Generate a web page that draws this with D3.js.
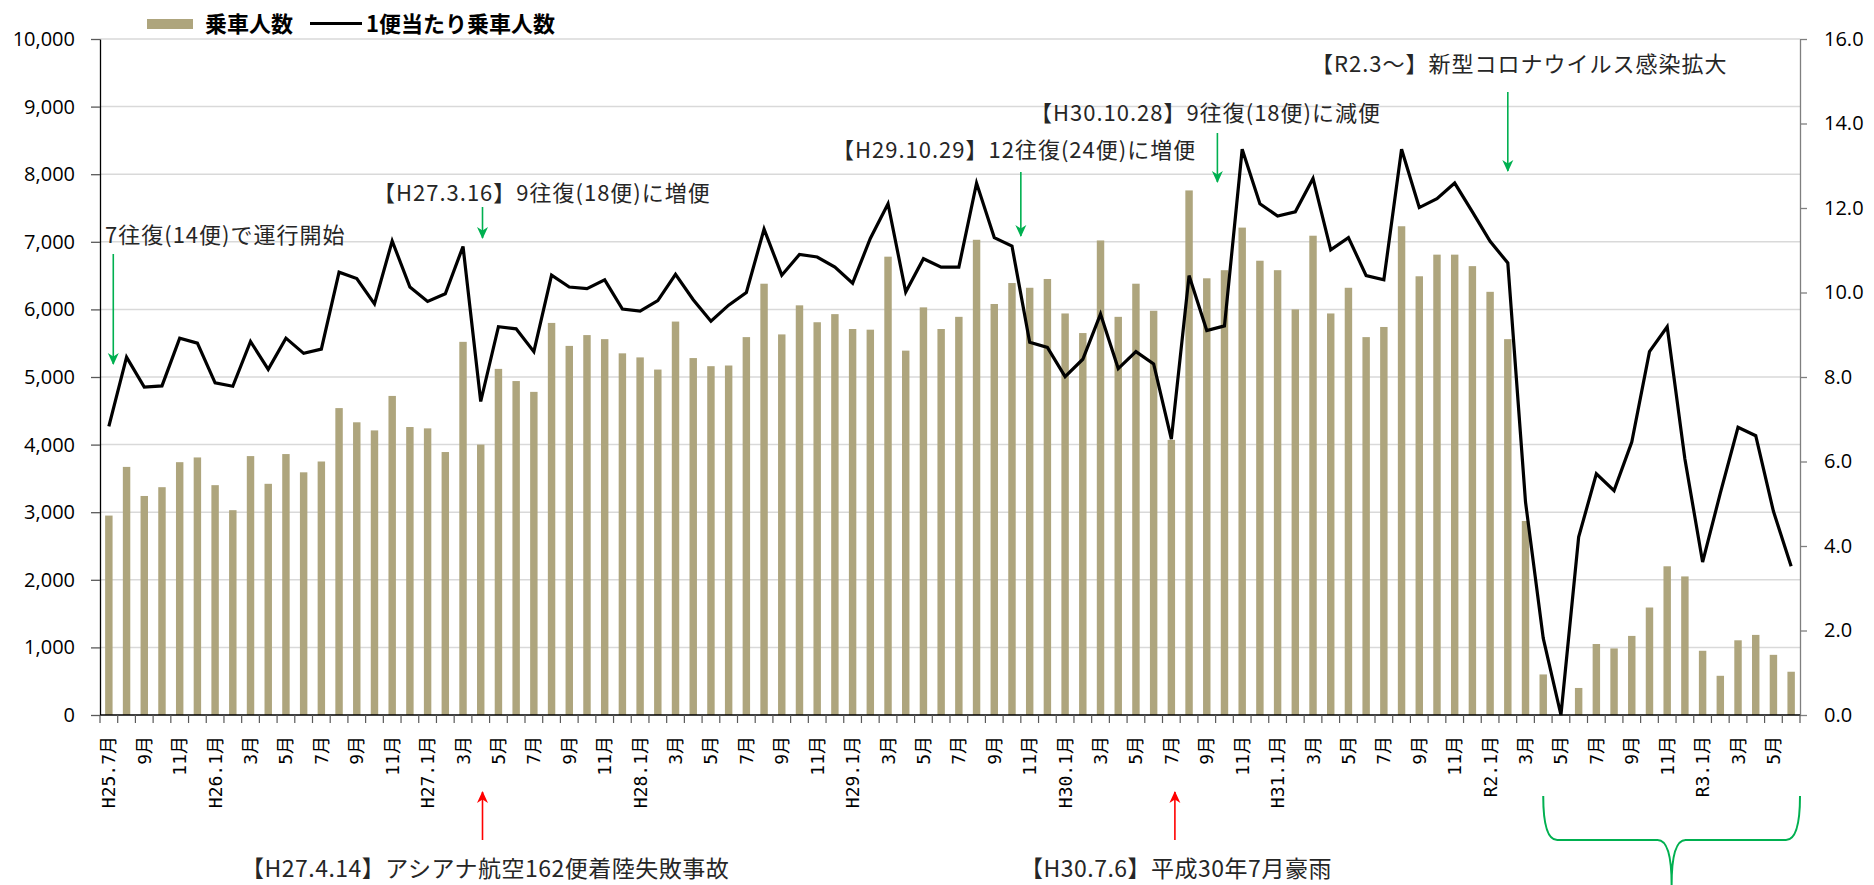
<!DOCTYPE html>
<html>
<head>
<meta charset="utf-8">
<script src="https://cdn.jsdelivr.net/npm/d3@7"></script>
<style>
  body { margin: 0; background: #fff; }
  svg { display: block; font-family: "Noto Sans CJK JP", sans-serif; }
</style>
</head>
<body>
<div id="chart"></div>
<script>
// x-axis labels, one every 2 months starting at H25.7
const tickLabels = ["H25.7月","9月","11月","H26.1月","3月","5月","7月","9月","11月",
  "H27.1月","3月","5月","7月","9月","11月","H28.1月","3月","5月","7月","9月","11月",
  "H29.1月","3月","5月","7月","9月","11月","H30.1月","3月","5月","7月","9月","11月",
  "H31.1月","3月","5月","7月","9月","11月","R2.1月","3月","5月","7月","9月","11月",
  "R3.1月","3月","5月"];

// 乗車人数 (monthly, H25.7 - R3.6)
const riders = [
  2950,3670,3240,3370,3740,3810,3400,3030,3830,3420,3860,3590,
  3750,4540,4330,4210,4720,4260,4240,3890,5520,4000,5120,4940,
  4780,5800,5460,5620,5560,5350,5290,5110,5820,5280,5160,5170,
  5590,6380,5630,6060,5810,5930,5710,5700,6780,5390,6030,5710,
  5890,7030,6080,6390,6320,6450,5940,5650,7020,5890,6380,5980,
  4070,7760,6460,6580,7210,6720,6580,6000,7090,5940,6320,5590,
  5740,7230,6490,6810,6810,6640,6260,5560,2870,600,0,400,
  1050,985,1170,1590,2200,2050,950,580,1105,1185,890,640
];

// 1便当たり乗車人数
const perFlight = [
  6.83,8.47,7.76,7.79,8.92,8.80,7.86,7.78,8.84,8.18,8.92,8.56,
  8.66,10.48,10.33,9.73,11.22,10.13,9.79,9.97,11.09,7.42,9.19,9.14,
  8.60,10.41,10.13,10.09,10.30,9.61,9.56,9.81,10.43,9.83,9.32,9.70,
  10.00,11.50,10.41,10.90,10.84,10.60,10.22,11.28,12.10,10.01,10.80,10.60,
  10.60,12.59,11.30,11.10,8.82,8.70,8.01,8.42,9.49,8.20,8.60,8.31,
  6.53,10.40,9.10,9.21,13.39,12.10,11.81,11.91,12.70,11.01,11.30,10.40,
  10.30,13.39,12.01,12.22,12.59,11.91,11.21,10.70,5.04,1.82,0,4.21,
  5.71,5.31,6.46,8.60,9.19,6.06,3.62,5.25,6.81,6.61,4.82,3.52
];

const width = 1874, height = 885;
const margin = { top: 39, right: 74, bottom: 170, left: 100 };
const green = "#00b050", red = "#ff0000";

const svg = d3.select("#chart").append("svg")
  .attr("width", width)
  .attr("height", height);

const x = d3.scaleBand()
  .domain(d3.range(riders.length))
  .range([margin.left, width - margin.right])
  .paddingInner(0.58)
  .paddingOuter(0.29);
const xc = i => x(i) + x.bandwidth() / 2;

const yL = d3.scaleLinear().domain([0, 10000]).range([height - margin.bottom, margin.top]);
const yR = d3.scaleLinear().domain([0, 16]).range([height - margin.bottom, margin.top]);

// gridlines
svg.append("g")
  .selectAll("line")
  .data(yL.ticks(10).filter(d => d > 0))
  .enter().append("line")
  .attr("x1", margin.left)
  .attr("x2", width - margin.right)
  .attr("y1", d => yL(d))
  .attr("y2", d => yL(d))
  .attr("stroke", "#d9d9d9")
  .attr("stroke-width", 1.5);

// bars
svg.append("g")
  .selectAll("rect")
  .data(riders)
  .enter().append("rect")
  .attr("x", (d, i) => x(i))
  .attr("y", d => yL(d))
  .attr("width", x.bandwidth())
  .attr("height", d => yL(0) - yL(d))
  .attr("fill", "#aea57d");

// line
const line = d3.line()
  .x((d, i) => xc(i))
  .y(d => yR(d));

svg.append("path")
  .datum(perFlight)
  .attr("d", line)
  .attr("fill", "none")
  .attr("stroke", "#000")
  .attr("stroke-width", 3.2)
  .attr("stroke-linejoin", "miter");

// left axis
const axL = svg.append("g")
  .attr("transform", `translate(${margin.left},0)`)
  .call(d3.axisLeft(yL).ticks(10).tickFormat(d3.format(",")).tickSize(9).tickSizeOuter(0).tickPadding(16));
axL.select(".domain").attr("stroke", "#000").attr("stroke-width", 1.3);
axL.selectAll(".tick line").attr("stroke", "#595959").attr("stroke-width", 1.3);
axL.selectAll("text").attr("font-family", "'Open Sans', sans-serif").attr("font-size", 20).attr("fill", "#000");

// right axis
const axR = svg.append("g")
  .attr("transform", `translate(${width - margin.right},0)`)
  .call(d3.axisRight(yR).tickValues(d3.range(0, 17, 2)).tickFormat(d3.format(".1f")).tickSize(7).tickSizeOuter(0).tickPadding(17));
axR.select(".domain").attr("stroke", "#7f7f7f").attr("stroke-width", 1.3);
axR.selectAll(".tick line").attr("stroke", "#7f7f7f").attr("stroke-width", 1.3);
axR.selectAll("text").attr("font-family", "'Open Sans', sans-serif").attr("font-size", 20).attr("fill", "#000");

// bottom axis
const y0 = yL(0);
svg.append("line")
  .attr("x1", margin.left).attr("x2", width - margin.right)
  .attr("y1", y0).attr("y2", y0)
  .attr("stroke", "#000").attr("stroke-width", 1.3);

svg.append("g")
  .selectAll("line")
  .data(d3.range(riders.length + 1))
  .enter().append("line")
  .attr("x1", i => margin.left + i * x.step())
  .attr("x2", i => margin.left + i * x.step())
  .attr("y1", y0)
  .attr("y2", y0 + 8)
  .attr("stroke", "#595959")
  .attr("stroke-width", 1.2);

svg.append("g")
  .selectAll("text")
  .data(tickLabels)
  .enter().append("text")
  .attr("transform", (d, k) => `translate(${xc(k * 2)},${y0 + 21}) rotate(-90)`)
  .attr("text-anchor", "end")
  .attr("dy", "0.36em")
  .attr("font-family", "'DejaVu Sans Mono', 'Noto Sans CJK JP', monospace")
  .attr("font-size", 18)
  .attr("fill", "#000")
  .text(d => d);

// legend
const lg = svg.append("g").attr("font-size", 22).attr("font-weight", "bold").attr("fill", "#000");
lg.append("rect").attr("x", 147).attr("y", 19).attr("width", 46).attr("height", 10).attr("fill", "#aea57d");
lg.append("text").attr("x", 205).attr("y", 32).text("乗車人数");
lg.append("line").attr("x1", 310).attr("x2", 362).attr("y1", 23.5).attr("y2", 23.5)
  .attr("stroke", "#000").attr("stroke-width", 3);
lg.append("text").attr("x", 366).attr("y", 32).text("1便当たり乗車人数");

// arrow markers
const defs = svg.append("defs");
[["g", green], ["r", red]].forEach(([id, c]) => {
  defs.append("marker")
    .attr("id", "head-" + id)
    .attr("markerUnits", "userSpaceOnUse")
    .attr("viewBox", "0 0 12 12")
    .attr("markerWidth", 12)
    .attr("markerHeight", 12)
    .attr("refX", 11)
    .attr("refY", 6)
    .attr("orient", "auto")
    .append("path")
    .attr("d", "M0,0.5 L12,6 L0,11.5 L3.5,6 Z")
    .attr("fill", c);
});

// annotations (m = month position along the x axis)
const notes = [
  { text: "7往復(14便)で運行開始", tx: 105, ty: 243, m: 0.25, ya: 254, yb: 364, c: "g", size: 22 },
  { text: "【H27.3.16】9往復(18便)に増便", tx: 373, ty: 201, m: 21.1, ya: 207, yb: 238, c: "g", size: 22 },
  { text: "【H29.10.29】12往復(24便)に増便", tx: 832, ty: 158, m: 51.5, ya: 172, yb: 236, c: "g", size: 22 },
  { text: "【H30.10.28】9往復(18便)に減便", tx: 1030, ty: 121, m: 62.6, ya: 133, yb: 182, c: "g", size: 22 },
  { text: "【R2.3〜】新型コロナウイルス感染拡大", tx: 1311, ty: 72, m: 79.0, ya: 92, yb: 171, c: "g", size: 22 },
  { text: "【H27.4.14】アシアナ航空162便着陸失敗事故", tx: 241, ty: 877, m: 21.1, ya: 840, yb: 792, c: "r", size: 23 },
  { text: "【H30.7.6】平成30年7月豪雨", tx: 1020, ty: 877, m: 60.2, ya: 840, yb: 792, c: "r", size: 23 }
];
const mx = m => margin.left + (m + 0.5) * x.step();

svg.append("g").selectAll("line")
  .data(notes)
  .enter().append("line")
  .attr("x1", d => mx(d.m)).attr("x2", d => mx(d.m))
  .attr("y1", d => d.ya).attr("y2", d => d.yb)
  .attr("stroke", d => d.c === "g" ? green : red)
  .attr("stroke-width", 1.6)
  .attr("marker-end", d => `url(#head-${d.c})`);

svg.append("g").selectAll("text")
  .data(notes)
  .enter().append("text")
  .attr("x", d => d.tx)
  .attr("y", d => d.ty)
  .attr("font-size", d => d.size)
  .attr("letter-spacing", d => d.c === "g" ? 1 : 0.5)
  .attr("fill", "#262626")
  .text(d => d.text);

// brace under the R2.4 - R3.6 period
const bl = xc(81), br = width - margin.right, bm = (bl + br) / 2;
const by = 840, bt = 796;
svg.append("path")
  .attr("d", `M${bl},${bt} Q${bl},${by} ${bl + 14},${by} L${bm - 14},${by} Q${bm},${by} ${bm},${height}
              M${br},${bt} Q${br},${by} ${br - 14},${by} L${bm + 14},${by} Q${bm},${by} ${bm},${height}`)
  .attr("fill", "none")
  .attr("stroke", green)
  .attr("stroke-width", 2);
</script>
</body>
</html>
